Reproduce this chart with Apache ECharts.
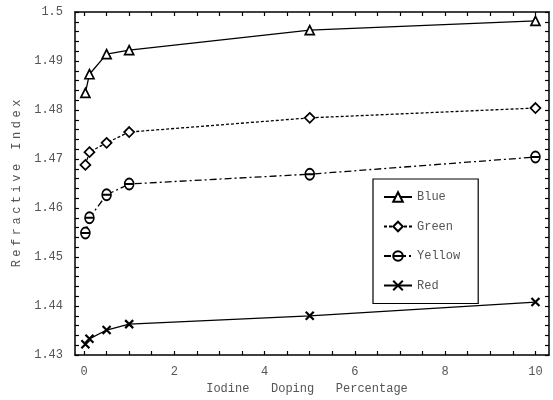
<!DOCTYPE html>
<html>
<head>
<meta charset="utf-8">
<script src="https://cdn.jsdelivr.net/npm/echarts@6/dist/echarts.min.js"></script>
<style>
  html, body { margin: 0; padding: 0; background: #fff; }
  #main { width: 553px; height: 400px; }
</style>
</head>
<body>
<div id="main"></div>
<script>
// doping percentages (same for every colour)
var doping = [0.03, 0.12, 0.5, 1, 5, 10];
var blue   = [1.4835, 1.4873, 1.4914, 1.4922, 1.4963, 1.4982];
var green  = [1.4688, 1.4714, 1.4733, 1.4755, 1.4784, 1.4804];
var yellow = [1.4549, 1.4580, 1.4627, 1.4649, 1.4669, 1.4704];
var red    = [1.4322, 1.4333, 1.4351, 1.4363, 1.4380, 1.4408];
var xLabels = [0, 2, 4, 6, 8, 10];
var xTickStep = 0.5;

var FONT = "'Liberation Mono', 'DejaVu Sans Mono', monospace";
var GREY = '#555';

function pairs(ys) {
    return doping.map(function (x, i) { return [x, ys[i]]; });
}

var xTicks = [];
for (var t = 0; t <= 10 + 1e-9; t += xTickStep) xTicks.push(+t.toFixed(2));

// old-style wide letter spacing for the vertical title
var yName = 'Refractive Index'.split('').map(function (ch) {
    return '{c|' + ch + '}';
}).join('');

var thetaPath = 'path://M0,6A5,6,0,1,1,10,6A5,6,0,1,1,0,6ZM0,6L10,6';
var crossPath = 'path://M0,0L10,10M10,0L0,10';

function xAxisCfg(pos, showLabel) {
    return {
        type: 'value',
        position: pos,
        min: -0.2,
        max: 10.3,
        name: showLabel ? 'Iodine   Doping   Percentage' : '',
        nameLocation: 'middle',
        nameGap: 27,
        nameTextStyle: {fontFamily: FONT, fontSize: 12, color: GREY, padding: [0, 10, 0, 0]},
        axisLine: {show: true, onZero: false, lineStyle: {color: '#000', width: 1.5}},
        axisTick: {show: true, inside: true, length: 4, customValues: xTicks,
                   lineStyle: {color: '#000', width: 1.2}},
        axisLabel: {show: showLabel, customValues: xLabels, margin: 11,
                    fontFamily: FONT, fontSize: 12, color: GREY},
        splitLine: {show: false}
    };
}

function yAxisCfg(pos, showLabel) {
    return {
        type: 'value',
        position: pos,
        min: 1.43,
        max: 1.5,
        interval: 0.01,
        name: showLabel ? yName : '',
        nameLocation: 'middle',
        nameGap: 48,
        nameTextStyle: {fontFamily: FONT, fontSize: 12, color: GREY,
                        rich: {c: {width: 10.7, align: 'center', fontFamily: FONT, fontSize: 12, color: GREY}}},
        axisLine: {show: true, onZero: false, lineStyle: {color: '#000', width: 1.5}},
        axisTick: {show: true, inside: true, length: 4, lineStyle: {color: '#000', width: 1.2}},
        minorTick: {show: true, splitNumber: 5, length: 4, lineStyle: {color: '#000', width: 1.2}},
        axisLabel: {show: showLabel, margin: 12, fontFamily: FONT, fontSize: 12, color: GREY},
        splitLine: {show: false}
    };
}

function line(name, ys, symbol, size, dash, bw) {
    return {
        name: name,
        type: 'line',
        data: pairs(ys),
        symbol: symbol,
        symbolSize: size,
        showAllSymbol: true,
        color: '#000',
        lineStyle: {color: '#000', width: 1.3, type: dash},
        itemStyle: {color: '#fff', borderColor: '#000', borderWidth: bw},
        emphasis: {disabled: true},
        animation: false
    };
}

var chart = echarts.init(document.getElementById('main'), null, {renderer: 'canvas'});
chart.setOption({
    backgroundColor: '#fff',
    animation: false,
    grid: {left: 75, right: 4, top: 12, bottom: 45},
    xAxis: [xAxisCfg('bottom', true), xAxisCfg('top', false)],
    yAxis: [yAxisCfg('left', true), yAxisCfg('right', false)],
    legend: {
        orient: 'vertical',
        left: 373,
        top: 179,
        padding: [12, 18, 12, 10],
        itemGap: 17.5,
        itemWidth: 28,
        itemHeight: 12,
        borderColor: '#000',
        borderWidth: 1.2,
        backgroundColor: '#fff',
        textStyle: {fontFamily: FONT, fontSize: 12, color: GREY},
        data: ['Blue', 'Green', 'Yellow', 'Red']
    },
    series: [
        line('Blue', blue, 'triangle', 9, 'solid', 1.7),
        line('Green', green, 'diamond', 10, [3, 2], 1.7),
        line('Yellow', yellow, thetaPath, [9, 11], [7, 3, 2, 3], 1.7),
        line('Red', red, crossPath, 8, 'solid', 2.2)
    ]
});
</script>
</body>
</html>
